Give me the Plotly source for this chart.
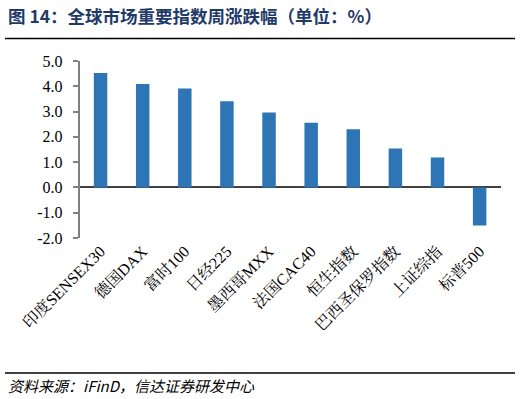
import plotly.graph_objects as go

categories = ["印度SENSEX30", "德国DAX", "富时100", "日经225", "墨西哥MXX",
              "法国CAC40", "恒生指数", "巴西圣保罗指数", "上证综指", "标普500"]
values = [4.53, 4.09, 3.91, 3.41, 2.96, 2.56, 2.30, 1.54, 1.18, -1.51]
y_ticks = [5, 4, 3, 2, 1, 0, -1, -2]
y_ticktext = ["5.0", "4.0", "3.0", "2.0", "1.0", "0.0", "-1.0", "-2.0"]

title_text = "图 14：全球市场重要指数周涨跌幅（单位：%）"
source_text = "资料来源：iFinD，信达证券研发中心"

W, H = 520, 399
L, R, T, B = 79.5, 500.7, 61, 238


def px(x):
    return x / W


def py(y):
    return 1 - y / H


serif = "Liberation Serif, 'Noto Serif CJK SC', 'Noto Sans CJK SC', serif"

fig = go.Figure()
fig.add_trace(go.Bar(
    x=categories, y=values, marker=dict(color="#2E75B6", line=dict(width=0)),
    width=0.32, hoverinfo="skip",
))
# separator rules (in a full-page pixel overlay axis)
for yy in (38.5, 373):
    fig.add_trace(go.Scatter(
        x=[5, 515], y=[yy, yy], mode="lines", xaxis="x2", yaxis="y2",
        line=dict(color="#000000", width=1.5), hoverinfo="skip", cliponaxis=False,
    ))

fig.update_layout(
    width=W, height=H,
    margin=dict(l=0, r=0, t=0, b=0, pad=0),
    paper_bgcolor="white", plot_bgcolor="rgba(0,0,0,0)",
    showlegend=False,
    font=dict(family=serif, size=16, color="#000000"),
    xaxis=dict(
        domain=[px(L), px(R)], automargin=False,
        range=[-0.5, 9.5], showgrid=False, showline=False, ticks="",
        tickangle=-45, tickfont=dict(family=serif, size=16, color="#000000"),
        zeroline=False,
    ),
    yaxis=dict(
        domain=[py(B), py(T)], automargin=False,
        range=[-2, 5], tickvals=y_ticks, ticktext=y_ticktext,
        showgrid=False, showline=True, linecolor="#808080", linewidth=1.5,
        ticks="outside", ticklen=5, tickcolor="#808080", tickwidth=1.5,
        tickfont=dict(family=serif, size=16, color="#000000"),
        zeroline=True, zerolinecolor="#404040", zerolinewidth=1.5,
        ticklabelstandoff=7,
    ),
    xaxis2=dict(domain=[0, 1], range=[0, W], visible=False, anchor="y2",
                automargin=False, fixedrange=True),
    yaxis2=dict(domain=[0, 1], range=[H, 0], visible=False, anchor="x2",
                automargin=False, fixedrange=True),
    annotations=[
        dict(text="<b>" + title_text + "</b>", xref="paper", yref="paper",
             x=px(6), y=py(15), xanchor="left", yanchor="middle", showarrow=False,
             font=dict(family="'Noto Sans CJK SC', sans-serif", size=17.5, color="#1F3A68")),
        dict(text="<i>" + source_text + "</i>", xref="paper", yref="paper",
             x=px(6), y=py(385), xanchor="left", yanchor="middle", showarrow=False,
             font=dict(family="'Noto Sans CJK SC', sans-serif", size=15, color="#000000")),
    ],
)

fig.write_html(
    "out.html",
    config={"displayModeBar": False},
    post_script="document.body.style.margin='0';document.body.style.overflow='hidden';",
)
